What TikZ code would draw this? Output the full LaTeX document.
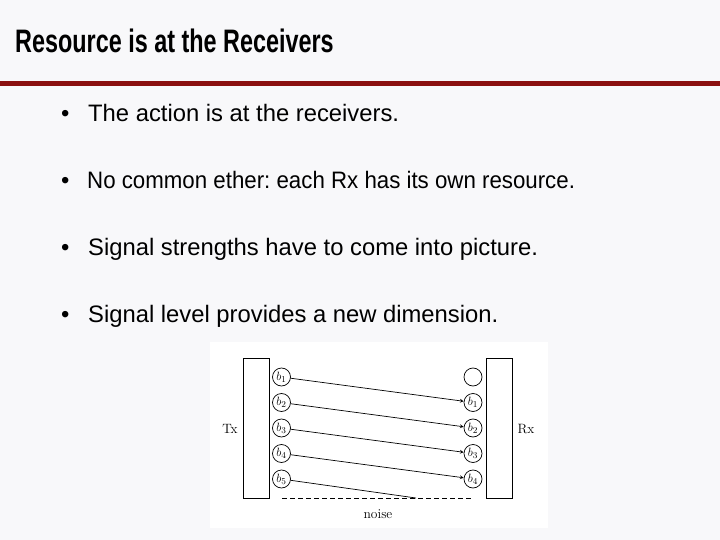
\documentclass[tikz,border=0pt]{standalone}
\usepackage{amsmath,amssymb}
\usepackage{fontspec}
\newfontfamily\slidefont{Liberation Sans}
\newfontfamily\narrowslidefont[FakeStretch=0.936]{Liberation Sans}
\usepackage{tikz}
\usetikzlibrary{shapes.geometric, arrows}
\frenchspacing
\definecolor{slidebg}{RGB}{248,248,250}
\definecolor{rulered}{RGB}{139,16,16}
\tikzstyle{arrow} = [line width=0.7pt,->,>=stealth]
\tikzstyle{slot} = [circle, draw, line width=0.7pt, minimum size=18pt, inner sep=0pt, font=\fontsize{12.5}{14}\selectfont]
\tikzstyle{station} = [rectangle, draw, line width=0.8pt, minimum width=26pt, minimum height=140pt, inner sep=0pt]
\tikzstyle{bullet} = [anchor=base west, inner sep=0pt, font=\slidefont\fontsize{23.8}{28}\selectfont]
\tikzstyle{caption} = [font=\fontsize{13.5}{16}\selectfont]

\begin{document}
\begin{tikzpicture}[x=1pt, y=-1pt]
    \useasboundingbox (0,0) rectangle (720,540);
    \fill[slidebg] (0,0) rectangle (720,540);

      % Title
      \node[anchor=base west, inner sep=0pt, xscale=0.72, font=\slidefont\bfseries\fontsize{32.5}{36}\selectfont] (title) at (15,53) {Resource is at the Receivers};
      \fill[rulered] (0,81.5) rectangle (720,86.5);

      % Bullets
      \node[bullet] (dot1) at (61,122) {\textbullet};
      \node[bullet] (txt1) at (88,122) {The action is at the receivers.};
      \node[bullet] (dot2) at (61,188.5) {\textbullet};
      \node[bullet, font=\narrowslidefont\fontsize{23.8}{28}\selectfont] (txt2) at (87,188.5) {No common ether: each Rx has its own resource.};
      \node[bullet] (dot3) at (61,255) {\textbullet};
      \node[bullet] (txt3) at (88,255) {Signal strengths have to come into picture.};
      \node[bullet] (dot4) at (61,322) {\textbullet};
      \node[bullet] (txt4) at (88,322) {Signal level provides a new dimension.};

      % Figure
      \fill[white] (210,342) rectangle (548,528);

      % Nodes
      \node[station] (tx) at (256,428) {};
      \node[station] (rx) at (499,428) {};
      \node[caption] (txlabel) at (230,429) {Tx};
      \node[caption] (rxlabel) at (526,429) {Rx};

      \node[slot] (l1) at (281.5,377) {$b_1$};
      \node[slot] (l2) at (281.5,402.5) {$b_2$};
      \node[slot] (l3) at (281.5,428) {$b_3$};
      \node[slot] (l4) at (281.5,453.5) {$b_4$};
      \node[slot] (l5) at (281.5,479) {$b_5$};

      \node[slot] (r0) at (473,377) {};
      \node[slot] (r1) at (473,402.5) {$b_1$};
      \node[slot] (r2) at (473,428) {$b_2$};
      \node[slot] (r3) at (473,453.5) {$b_3$};
      \node[slot] (r4) at (473,479) {$b_4$};

      \coordinate (n1) at (282,498);
      \coordinate (n2) at (473,498);
      \coordinate (hit) at (416,498);
      \node[caption] (noise) at (378,514) {noise};

      %Edges
      \draw[arrow] (l1) -- (r1);
      \draw[arrow] (l2) -- (r2);
      \draw[arrow] (l3) -- (r3);
      \draw[arrow] (l4) -- (r4);
      \draw[line width=0.7pt] (l5) -- (hit);
      \draw[line width=0.8pt, dash pattern=on 5pt off 3pt] (n1) -- (n2);

  \end{tikzpicture}
\end{document}
